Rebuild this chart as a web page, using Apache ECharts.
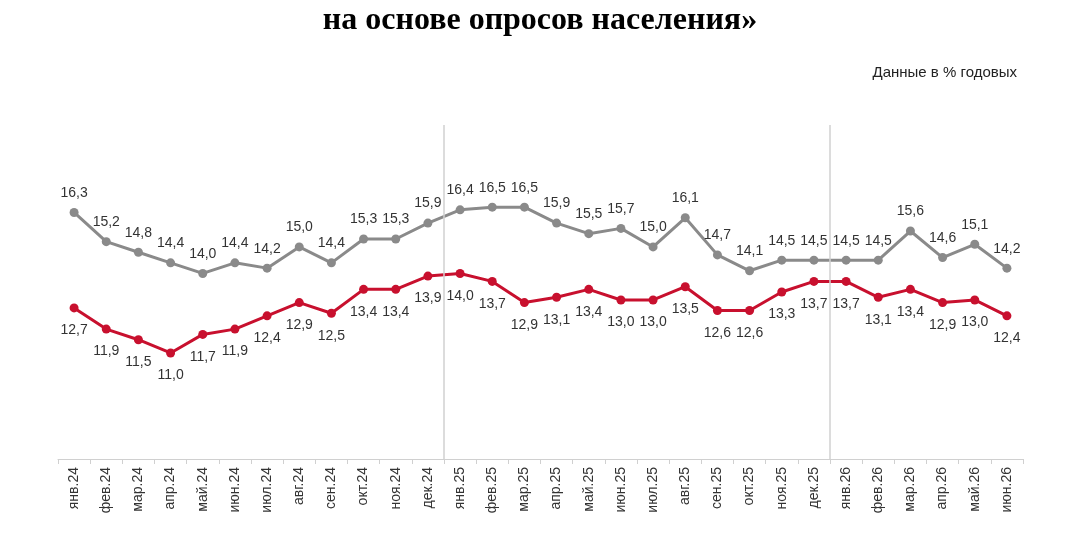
<!DOCTYPE html>
<html>
<head>
<meta charset="utf-8">
<script src="https://cdn.jsdelivr.net/npm/echarts@6/dist/echarts.min.js"></script>
<style>
    html, body { margin: 0; padding: 0; background: #fff; }
    #chart { width: 1080px; height: 540px; }
</style>
</head>
<body>
<div id="chart"></div>
<script>
const meses = [
    'янв.24', 'фев.24', 'мар.24', 'апр.24', 'май.24', 'июн.24', 'июл.24', 'авг.24', 'сен.24', 'окт.24', 'ноя.24', 'дек.24',
    'янв.25', 'фев.25', 'мар.25', 'апр.25', 'май.25', 'июн.25', 'июл.25', 'авг.25', 'сен.25', 'окт.25', 'ноя.25', 'дек.25',
    'янв.26', 'фев.26', 'мар.26', 'апр.26', 'май.26', 'июн.26'
];

// серая линия (верхняя)
const serieCinza = [
    16.3, 15.2, 14.8, 14.4, 14.0, 14.4, 14.2, 15.0, 14.4, 15.3, 15.3, 15.9,
    16.4, 16.5, 16.5, 15.9, 15.5, 15.7, 15.0, 16.1, 14.7, 14.1, 14.5, 14.5,
    14.5, 14.5, 15.6, 14.6, 15.1, 14.2
];

// красная линия (нижняя)
const serieVermelha = [
    12.7, 11.9, 11.5, 11.0, 11.7, 11.9, 12.4, 12.9, 12.5, 13.4, 13.4, 13.9,
    14.0, 13.7, 12.9, 13.1, 13.4, 13.0, 13.0, 13.5, 12.6, 12.6, 13.3, 13.7,
    13.7, 13.1, 13.4, 12.9, 13.0, 12.4
];

// вертикальные разделители: граница перед январём 2025 и 2026
const divisores = [12, 24];

const chart = echarts.init(document.getElementById('chart'));

const fmt = p => p.value.toFixed(1).replace('.', ',');

chart.setOption({
    animation: false,
    title: [
        {
            text: 'на основе опросов населения»',
            left: 'center',
            top: 0,
            textStyle: {
                fontFamily: 'Liberation Serif',
                fontWeight: 'bold',
                fontSize: 32,
                color: '#000'
            }
        },
        {
            text: 'Данные в % годовых',
            right: 58,
            top: 60,
            textStyle: {
                fontFamily: 'Liberation Sans',
                fontWeight: 'normal',
                fontSize: 15,
                color: '#222'
            }
        }
    ],
    grid: { left: 58, right: 57, top: 125, bottom: 81 },
    xAxis: [
        {
            type: 'category',
            data: meses,
            boundaryGap: true,
            axisLine: { lineStyle: { color: '#d0d0d0', width: 1 } },
            axisTick: { show: true, length: 5, lineStyle: { color: '#d0d0d0' } },
            axisLabel: {
                rotate: 90,
                interval: 0,
                margin: 8,
                fontFamily: 'Liberation Sans',
                fontSize: 14,
                color: '#333'
            },
            splitLine: { show: false }
        },
        {
            // вспомогательная ось для разделителей по границам категорий
            type: 'value',
            min: 0,
            max: meses.length,
            show: false,
            splitLine: { show: false }
        }
    ],
    yAxis: {
        type: 'value',
        min: 7,
        max: 19.6,
        show: false,
        splitLine: { show: false }
    },
    series: [
        {
            name: 'divisores',
            type: 'line',
            xAxisIndex: 1,
            data: [],
            markLine: {
                silent: true,
                symbol: 'none',
                label: { show: false },
                lineStyle: { color: '#d0d0d0', width: 1.5, type: 'solid' },
                data: divisores.map(x => ({ xAxis: x }))
            }
        },
        {
            name: 'cinza',
            type: 'line',
            data: serieCinza,
            symbol: 'circle',
            symbolSize: 9,
            itemStyle: { color: '#8a8a8a' },
            lineStyle: { color: '#8a8a8a', width: 3 },
            label: {
                show: true,
                position: 'top',
                distance: 8,
                formatter: fmt,
                fontFamily: 'Liberation Sans',
                fontSize: 14,
                color: '#333'
            }
        },
        {
            name: 'vermelha',
            type: 'line',
            data: serieVermelha,
            symbol: 'circle',
            symbolSize: 9,
            itemStyle: { color: '#c8102e' },
            lineStyle: { color: '#c8102e', width: 3 },
            label: {
                show: true,
                position: 'bottom',
                distance: 11,
                formatter: fmt,
                fontFamily: 'Liberation Sans',
                fontSize: 14,
                color: '#333'
            }
        }
    ]
});
</script>
</body>
</html>
